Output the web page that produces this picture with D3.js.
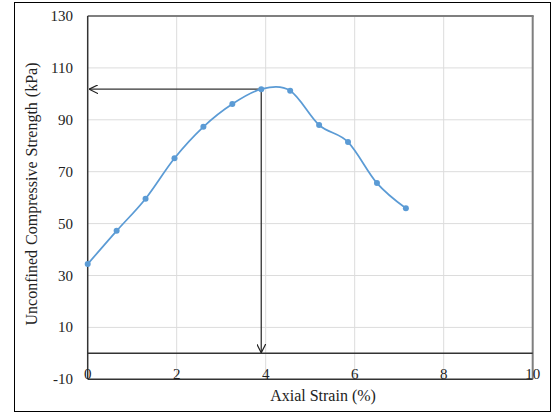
<!DOCTYPE html>
<html>
<head>
<meta charset="utf-8">
<script src="https://cdn.jsdelivr.net/npm/d3@7"></script>
<style>
  body { margin: 0; background: #fff; }
  svg text { font-family: "Liberation Serif", "Times New Roman", serif; fill: #222; }
</style>
</head>
<body>
<script>
let width = 554;
let height = 414;

// data
let strain = [0, 0.65, 1.3, 1.95, 2.6, 3.25, 3.9, 4.55, 5.2, 5.85, 6.5, 7.15];
let ucs = [34.4, 47.2, 59.6, 75.2, 87.3, 96.1, 101.8, 101.2, 88.0, 81.4, 65.6, 55.9];
let xTicks = [0, 2, 4, 6, 8, 10];
let yTicks = [-10, 10, 30, 50, 70, 90, 110, 130];
let peakIndex = 6;

let margin = { left: 87.7, right: 532.7, top: 16, bottom: 379.3 };

let x = d3.scaleLinear().domain([0, 10]).range([margin.left, margin.right]);
let y = d3.scaleLinear().domain([-10, 130]).range([margin.bottom, margin.top]);

let svg = d3.select("body").append("svg")
    .attr("width", width)
    .attr("height", height);

// outer chart border
svg.append("rect")
    .attr("x", 14.5).attr("y", 2.5)
    .attr("width", 536).attr("height", 409)
    .style("fill", "none").style("stroke", "#000").style("stroke-width", 1);

// gridlines
let grid = svg.append("g");
grid.selectAll("line.gx").data(xTicks.filter(d => d > 0 && d < 10)).enter().append("line")
    .attr("x1", d => x(d)).attr("x2", d => x(d))
    .attr("y1", margin.top).attr("y2", margin.bottom)
    .style("stroke", "#dcdcdc").style("stroke-width", 1);
grid.selectAll("line.gy").data(yTicks.filter(d => d > -10 && d < 130)).enter().append("line")
    .attr("x1", margin.left).attr("x2", margin.right)
    .attr("y1", d => y(d)).attr("y2", d => y(d))
    .style("stroke", "#dcdcdc").style("stroke-width", 1);

// plot area border: top and right grey, bottom dark
svg.append("line")
    .attr("x1", margin.left).attr("x2", margin.right + 1)
    .attr("y1", margin.top).attr("y2", margin.top)
    .style("stroke", "#7f7f7f").style("stroke-width", 2);
svg.append("line")
    .attr("x1", margin.right).attr("x2", margin.right)
    .attr("y1", margin.top).attr("y2", margin.bottom)
    .style("stroke", "#7f7f7f").style("stroke-width", 2);
svg.append("line")
    .attr("x1", margin.left).attr("x2", margin.right)
    .attr("y1", margin.bottom).attr("y2", margin.bottom)
    .style("stroke", "#333").style("stroke-width", 1.5);

// axes lines: vertical axis and horizontal axis crossing at 0
svg.append("line")
    .attr("x1", x(0)).attr("x2", x(0))
    .attr("y1", margin.top).attr("y2", margin.bottom)
    .style("stroke", "#333").style("stroke-width", 1.5);
svg.append("line")
    .attr("x1", margin.left).attr("x2", margin.right)
    .attr("y1", y(0)).attr("y2", y(0))
    .style("stroke", "#333").style("stroke-width", 1.5);

// tick labels
svg.selectAll("text.yt").data(yTicks).enter().append("text")
    .attr("x", 73).attr("y", d => y(d) + 5)
    .attr("text-anchor", "end")
    .style("font-size", "15px")
    .text(d => d);
svg.selectAll("text.xt").data(xTicks).enter().append("text")
    .attr("x", d => x(d)).attr("y", margin.bottom - 0.5)
    .attr("text-anchor", "middle")
    .style("font-size", "15px")
    .text(d => d);

// axis titles
svg.append("text")
    .attr("x", 323).attr("y", 401)
    .attr("text-anchor", "middle")
    .style("font-size", "16px")
    .text("Axial Strain (%)");
svg.append("text")
    .attr("transform", "translate(37,194) rotate(-90)")
    .attr("text-anchor", "middle")
    .style("font-size", "16px")
    .style("word-spacing", "1px")
    .text("Unconfined Compressive Strength (kPa)");

// arrow markers
let defs = svg.append("defs");
defs.append("marker")
    .attr("id", "arrow")
    .attr("viewBox", "0 0 10 10")
    .attr("refX", 10).attr("refY", 5)
    .attr("markerWidth", 9).attr("markerHeight", 9)
    .attr("markerUnits", "userSpaceOnUse")
    .attr("orient", "auto")
    .append("path")
    .attr("d", "M0,0 L10,5 L0,10")
    .style("fill", "none").style("stroke", "#222").style("stroke-width", 1.3);

let px = x(strain[peakIndex]);
let py = y(ucs[peakIndex]);
svg.append("line")
    .attr("x1", px).attr("y1", py)
    .attr("x2", x(0) + 1.5).attr("y2", py)
    .style("stroke", "#333").style("stroke-width", 1.3)
    .attr("marker-end", "url(#arrow)");
svg.append("line")
    .attr("x1", px).attr("y1", py)
    .attr("x2", px).attr("y2", y(0) - 0.5)
    .style("stroke", "#333").style("stroke-width", 1.3)
    .attr("marker-end", "url(#arrow)");

// smoothed data line
let pts = strain.map((s, i) => [s, ucs[i]]);
let line = d3.line()
    .x(d => x(d[0]))
    .y(d => y(d[1]))
    .curve(d3.curveCardinal.tension(0));
svg.append("path")
    .datum(pts)
    .attr("d", line)
    .style("fill", "none")
    .style("stroke", "#5b9bd5")
    .style("stroke-width", 1.75);

svg.selectAll("circle.pt").data(pts).enter().append("circle")
    .attr("cx", d => x(d[0]))
    .attr("cy", d => y(d[1]))
    .attr("r", 3)
    .style("fill", "#5b9bd5");
</script>
</body>
</html>
